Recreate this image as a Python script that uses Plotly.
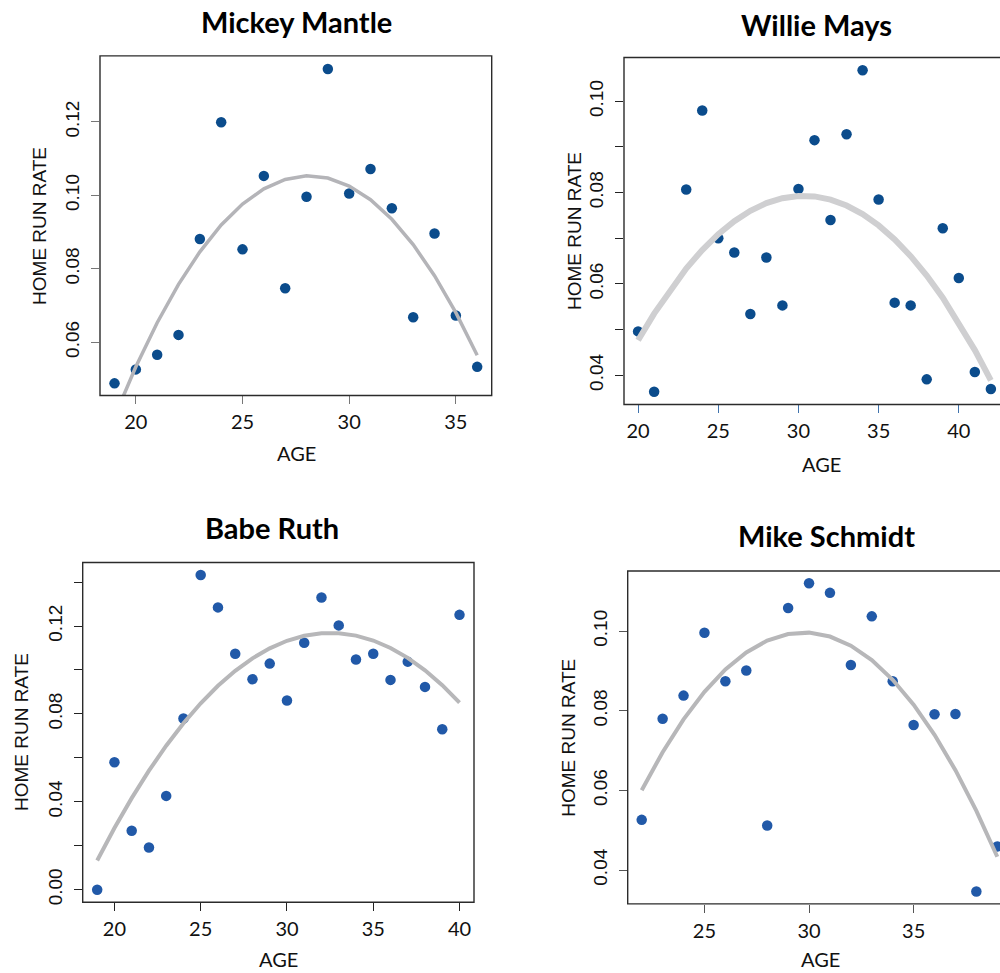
import numpy as np
import plotly.graph_objects as go

# ---------------- data ----------------
mantle_age = [19, 20, 21, 22, 23, 24, 25, 26, 27, 28, 29, 30, 31, 32, 33, 34, 35, 36]
mantle_rate = [0.0488, 0.0526, 0.0566, 0.0620, 0.0881, 0.1199, 0.0853, 0.1053, 0.0747,
               0.0996, 0.1344, 0.1005, 0.1072, 0.0965, 0.0668, 0.0896, 0.0673, 0.0533]

mays_age = [20, 21, 23, 24, 25, 26, 27, 28, 29, 30, 31, 32, 33, 34, 35, 36, 37, 38, 39, 40, 41, 42]
mays_rate = [0.0496, 0.0364, 0.0807, 0.0980, 0.0700, 0.0669, 0.0534, 0.0658, 0.0553, 0.0808,
             0.0915, 0.0740, 0.0928, 0.1068, 0.0785, 0.0559, 0.0553, 0.0391, 0.0722, 0.0613,
             0.0407, 0.0370]

ruth_age = [19, 20, 21, 22, 23, 24, 25, 26, 27, 28, 29, 30, 31, 32, 33, 34, 35, 36, 37, 38, 39, 40]
ruth_rate = [0.0000, 0.0580, 0.0268, 0.0192, 0.0427, 0.0779, 0.1432, 0.1285, 0.1074, 0.0958,
             0.1029, 0.0861, 0.1124, 0.1330, 0.1203, 0.1048, 0.1074, 0.0955, 0.1038, 0.0923,
             0.0730, 0.1251]

schmidt_age = [22, 23, 24, 25, 26, 27, 28, 29, 30, 31, 32, 33, 34, 35, 36, 37, 38, 39]
schmidt_rate = [0.0526, 0.0780, 0.0838, 0.0996, 0.0874, 0.0901, 0.0512, 0.1058, 0.1120,
                0.1096, 0.0915, 0.1037, 0.0874, 0.0764, 0.0791, 0.0792, 0.0346, 0.0459]

titles = ["Mickey Mantle", "Willie Mays", "Babe Ruth", "Mike Schmidt"]

# ---------------- layout helpers ----------------
W, H = 1000, 973
def px(x):
    return x / W
def py(y):
    return 1 - y / H

panels = [
    dict(name=titles[0], age=mantle_age, rate=mantle_rate,
         box=(100, 491.7, 56, 396.7), xr=[18.32, 36.68], yr=[0.0455, 0.1380],
         xt=[20, 25, 30, 35], yt=[0.06, 0.08, 0.10, 0.12], ytl=["0.06", "0.08", "0.10", "0.12"],
         dot="#0b4c8c", curve="#b4b4b8", cw=3.5, xtc="#777777", ytc="#777777",
         title_xy=(296, 22), ylab_x=39.3, xlab=(296, 454), open_right=False),
    dict(name=titles[1], age=mays_age, rate=mays_rate,
         box=(624, 1000, 57.7, 405.7), xr=[19.12, 42.57], yr=[0.0336, 0.1096],
         xt=[20, 25, 30, 35, 40], yt=[0.04, 0.05, 0.06, 0.07, 0.08, 0.09, 0.10],
         ytl=["0.04", "", "0.06", "", "0.08", "", "0.10"],
         dot="#0b4c8c", curve="#cfcfd1", cw=6, xtc="#3f72ad", ytc="#222222",
         title_xy=(816, 25), ylab_x=575, xlab=(821, 465), open_right=True),
    dict(name=titles[2], age=ruth_age, rate=ruth_rate,
         box=(82.7, 474, 564.3, 905), xr=[18.16, 40.84], yr=[-0.0057, 0.1489],
         xt=[20, 25, 30, 35, 40], yt=[0.00, 0.02, 0.04, 0.06, 0.08, 0.10, 0.12, 0.14],
         ytl=["0.00", "", "0.04", "", "0.08", "", "0.12", ""],
         dot="#2159a8", curve="#b7b7b9", cw=4, xtc="#222222", ytc="#222222",
         title_xy=(272, 529), ylab_x=21.7, xlab=(278, 962), open_right=False),
    dict(name=titles[3], age=schmidt_age, rate=schmidt_rate,
         box=(627.7, 1000, 572.7, 906.7), xr=[21.33, 39.13], yr=[0.0315, 0.1151],
         xt=[25, 30, 35], yt=[0.04, 0.06, 0.08, 0.10], ytl=["0.04", "0.06", "0.08", "0.10"],
         dot="#2159a8", curve="#b7b7b9", cw=4, xtc="#555555", ytc="#555555",
         title_xy=(826, 537), ylab_x=568.3, xlab=(820, 962), open_right=True),
]

TICK_FONT_X = dict(family="Lato, 'Open Sans', sans-serif", size=20, color="#111111")
TICK_FONT_Y = dict(family="'Liberation Sans', Arial, sans-serif", size=19, color="#111111")
LAB_FONT = dict(family="'Liberation Sans', Arial, sans-serif", size=19, color="#111111")
AGE_FONT = dict(family="Lato, 'Open Sans', sans-serif", size=20, color="#111111")
TITLE_FONT = dict(family="Lato, 'Open Sans', sans-serif", size=29, color="#000000")

fig = go.Figure()
layout = dict(width=W, height=H, margin=dict(l=0, r=0, t=0, b=0),
              paper_bgcolor="white", plot_bgcolor="white", showlegend=False)
shapes, annotations = [], []

for i, p in enumerate(panels, start=1):
    xa = "xaxis" if i == 1 else f"xaxis{i}"
    ya = "yaxis" if i == 1 else f"yaxis{i}"
    xref = "x" if i == 1 else f"x{i}"
    yref = "y" if i == 1 else f"y{i}"
    L, R, T, B = p["box"]

    age = np.array(p["age"], dtype=float)
    rate = np.array(p["rate"], dtype=float)
    coef = np.polyfit(age, rate, 2)
    fitted = np.polyval(coef, age)

    fig.add_trace(go.Scatter(x=p["age"], y=p["rate"], mode="markers", xaxis=xref, yaxis=yref,
                             marker=dict(size=10.5, color=p["dot"], line=dict(width=0)),
                             hoverinfo="skip"))
    fig.add_trace(go.Scatter(x=age, y=fitted, mode="lines", xaxis=xref, yaxis=yref,
                             line=dict(color=p["curve"], width=p["cw"]), hoverinfo="skip"))

    layout[xa] = dict(domain=[px(L), px(R)], range=p["xr"], anchor=yref,
                      showgrid=False, zeroline=False, showline=False,
                      ticks="outside", ticklen=8, tickwidth=1.3, tickcolor=p["xtc"],
                      tickvals=p["xt"], ticktext=[str(v) for v in p["xt"]],
                      tickfont=TICK_FONT_X, ticklabelstandoff=1)
    layout[ya] = dict(domain=[py(B), py(T)], range=p["yr"], anchor=xref,
                      showgrid=False, zeroline=False, showline=False,
                      ticks="outside", ticklen=8, tickwidth=1.3, tickcolor=p["ytc"],
                      tickvals=p["yt"], ticktext=p["ytl"], tickangle=-90,
                      tickfont=TICK_FONT_Y, ticklabelstandoff=4)

    x1 = px(R) if not p["open_right"] else 1.02
    shapes.append(dict(type="rect", xref="paper", yref="paper",
                       x0=px(L), x1=x1, y0=py(B), y1=py(T),
                       line=dict(color="#2b2b2b", width=1.4), layer="above"))

    tx, ty = p["title_xy"]
    annotations.append(dict(text="<b>%s</b>" % p["name"], x=px(tx), y=py(ty), xref="paper",
                            yref="paper", showarrow=False, font=TITLE_FONT,
                            xanchor="center", yanchor="middle"))
    annotations.append(dict(text="HOME RUN RATE", x=px(p["ylab_x"]), y=py((T + B) / 2),
                            xref="paper", yref="paper", showarrow=False, font=LAB_FONT,
                            textangle=-90, xanchor="center", yanchor="middle"))
    ax, ay = p["xlab"]
    annotations.append(dict(text="AGE", x=px(ax), y=py(ay), xref="paper", yref="paper",
                            showarrow=False, font=AGE_FONT, xanchor="center", yanchor="middle"))

layout["shapes"] = shapes
layout["annotations"] = annotations
fig.update_layout(**layout)
fig.write_html("out.html", config={"displayModeBar": False},
               post_script="document.body.style.margin='0';document.body.style.overflow='hidden';")
